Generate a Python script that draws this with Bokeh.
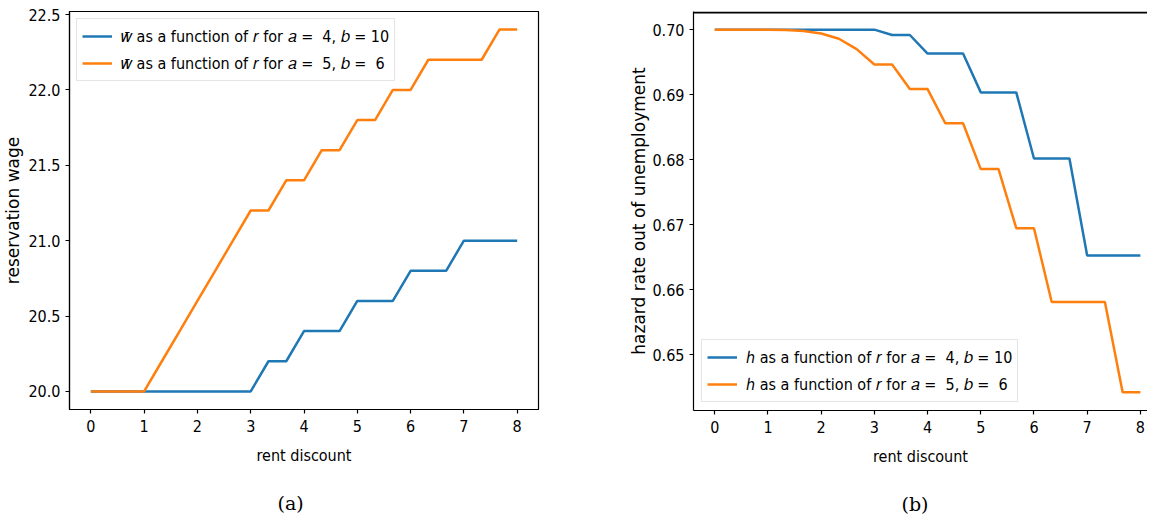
from bokeh.plotting import figure
from bokeh.layouts import row
from bokeh.models import FixedTicker, NumeralTickFormatter, Legend, LegendItem, Title, Span
from bokeh.embed import file_html
from bokeh.resources import INLINE

# ---------------- data ----------------
rent_discount = [0.0, 0.3333, 0.6667, 1.0, 1.3333, 1.6667, 2.0, 2.3333, 2.6667,
                 3.0, 3.3333, 3.6667, 4.0, 4.3333, 4.6667, 5.0, 5.3333, 5.6667,
                 6.0, 6.3333, 6.6667, 7.0, 7.3333, 7.6667, 8.0]

wage_a4_b10 = [20.0, 20.0, 20.0, 20.0, 20.0, 20.0, 20.0, 20.0, 20.0,
               20.0, 20.2, 20.2, 20.4, 20.4, 20.4, 20.6, 20.6, 20.6,
               20.8, 20.8, 20.8, 21.0, 21.0, 21.0, 21.0]
wage_a5_b6 = [20.0, 20.0, 20.0, 20.0, 20.2, 20.4, 20.6, 20.8, 21.0,
              21.2, 21.2, 21.4, 21.4, 21.6, 21.6, 21.8, 21.8, 22.0,
              22.0, 22.2, 22.2, 22.2, 22.2, 22.4, 22.4]

hazard_a4_b10 = [0.7000, 0.7000, 0.7000, 0.7000, 0.7000, 0.7000, 0.7000, 0.7000, 0.7000,
                 0.7000, 0.69918, 0.69918, 0.69633, 0.69633, 0.69633, 0.69036, 0.69036, 0.69036,
                 0.68020, 0.68020, 0.68020, 0.66528, 0.66528, 0.66528, 0.66528]
hazard_a5_b6 = [0.7000, 0.7000, 0.7000, 0.7000, 0.69995, 0.6998, 0.6994, 0.6986, 0.6970,
                0.69464, 0.69464, 0.69087, 0.69087, 0.68561, 0.68561, 0.67857, 0.67857, 0.66949,
                0.66949, 0.65815, 0.65815, 0.65815, 0.65815, 0.64426, 0.64426]

x_ticks = [0, 1, 2, 3, 4, 5, 6, 7, 8]
wage_ticks = [20.0, 20.5, 21.0, 21.5, 22.0, 22.5]
hazard_ticks = [0.65, 0.66, 0.67, 0.68, 0.69, 0.70]

wage_labels = ["\U0001D464\u0304 as a function of \U0001D45F for \U0001D44E =  4, \U0001D44F = 10",
               "\U0001D464\u0304 as a function of \U0001D45F for \U0001D44E =  5, \U0001D44F =  6"]
hazard_labels = ["\u210E as a function of \U0001D45F for \U0001D44E =  4, \U0001D44F = 10",
                 "\u210E as a function of \U0001D45F for \U0001D44E =  5, \U0001D44F =  6"]

BLUE = "#1f77b4"
ORANGE = "#ff7f0e"
FONT = "DejaVu Sans Condensed"
ROT_FONT = "DejaVu Sans"
CAP_FONT = "DejaVu Serif"


def style(p, yticks, yfmt, ylabel):
    p.xgrid.visible = False
    p.ygrid.visible = False
    p.background_fill_color = "white"
    p.border_fill_color = "white"
    p.xaxis.ticker = FixedTicker(ticks=x_ticks)
    p.yaxis.ticker = FixedTicker(ticks=yticks)
    p.yaxis.formatter = NumeralTickFormatter(format=yfmt)
    for ax in [p.xaxis[0], p.yaxis[0]]:
        ax.major_tick_out = 4
        ax.major_tick_in = 0
        ax.minor_tick_out = 0
        ax.minor_tick_in = 0
        ax.axis_line_color = "black"
        ax.axis_line_width = 1.2
        ax.major_tick_line_color = "black"
        ax.major_tick_line_width = 1.2
        ax.major_label_text_font = FONT
        ax.major_label_text_font_size = "16px"
        ax.major_label_text_color = "black"
        ax.axis_label_text_font_style = "normal"
        ax.axis_label_text_color = "black"
    p.xaxis.axis_label = "rent discount"
    p.xaxis.axis_label_text_font = FONT
    p.xaxis.axis_label_text_font_size = "16px"
    p.xaxis.major_label_standoff = 6
    p.xaxis.axis_label_standoff = 11
    p.yaxis.axis_label = ylabel
    p.yaxis.axis_label_text_font = ROT_FONT
    p.yaxis.axis_label_text_font_size = "17px"
    p.yaxis.major_label_standoff = 5


def add_legend(p, renderers, labels, loc, margin):
    items = [LegendItem(label=l, renderers=[r]) for l, r in zip(labels, renderers)]
    lg = Legend(items=items, location=loc)
    lg.margin = margin
    lg.padding = 5
    lg.spacing = 3
    lg.glyph_height = 24
    lg.label_height = 24
    lg.glyph_width = 30
    lg.label_standoff = 9
    lg.label_text_font = FONT
    lg.label_text_font_size = "16px"
    lg.label_text_color = "black"
    lg.border_line_color = "#cccccc"
    lg.background_fill_alpha = 0.8
    p.add_layout(lg)


def add_caption(p, text):
    p.add_layout(Title(text=text, align="left", offset=208, text_font=CAP_FONT,
                       text_font_size="19px", text_font_style="normal",
                       text_color="black", standoff=44), "below")


# ---------------- panel (a) ----------------
p1 = figure(frame_width=469, frame_height=398, x_range=(-0.4, 8.4), y_range=(19.88, 22.52),
            output_backend="svg", toolbar_location=None,
            min_border_left=61, min_border_right=70, min_border_top=11, min_border_bottom=106)
style(p1, wage_ticks, "0.0", "reservation wage")
p1.outline_line_color = "black"
p1.outline_line_width = 1.2
p1.yaxis.axis_label_standoff = 2
r1 = p1.line(rent_discount, wage_a4_b10, line_color=BLUE, line_width=2.5)
r2 = p1.line(rent_discount, wage_a5_b6, line_color=ORANGE, line_width=2.5)
add_legend(p1, [r1, r2], wage_labels, "top_left", 7)
add_caption(p1, "(a)")

# ---------------- panel (b) ----------------
p2 = figure(frame_width=454, frame_height=399, x_range=(-0.4, 8.134), y_range=(0.64147, 0.70279),
            output_backend="svg", toolbar_location=None,
            min_border_left=85, min_border_right=0, min_border_top=10, min_border_bottom=106)
style(p2, hazard_ticks, "0.00", "hazard rate out of unemployment")
p2.outline_line_color = None
p2.yaxis.axis_label_standoff = 0
p2.add_layout(Span(location=0.702637, dimension="width", line_color="black", line_width=2))
r3 = p2.line(rent_discount, hazard_a4_b10, line_color=BLUE, line_width=2.5)
r4 = p2.line(rent_discount, hazard_a5_b6, line_color=ORANGE, line_width=2.5)
add_legend(p2, [r3, r4], hazard_labels, "bottom_left", 8)
add_caption(p2, "(b)")

layout = row(p1, p2)
open("out.html", "w").write(file_html(layout, INLINE))
